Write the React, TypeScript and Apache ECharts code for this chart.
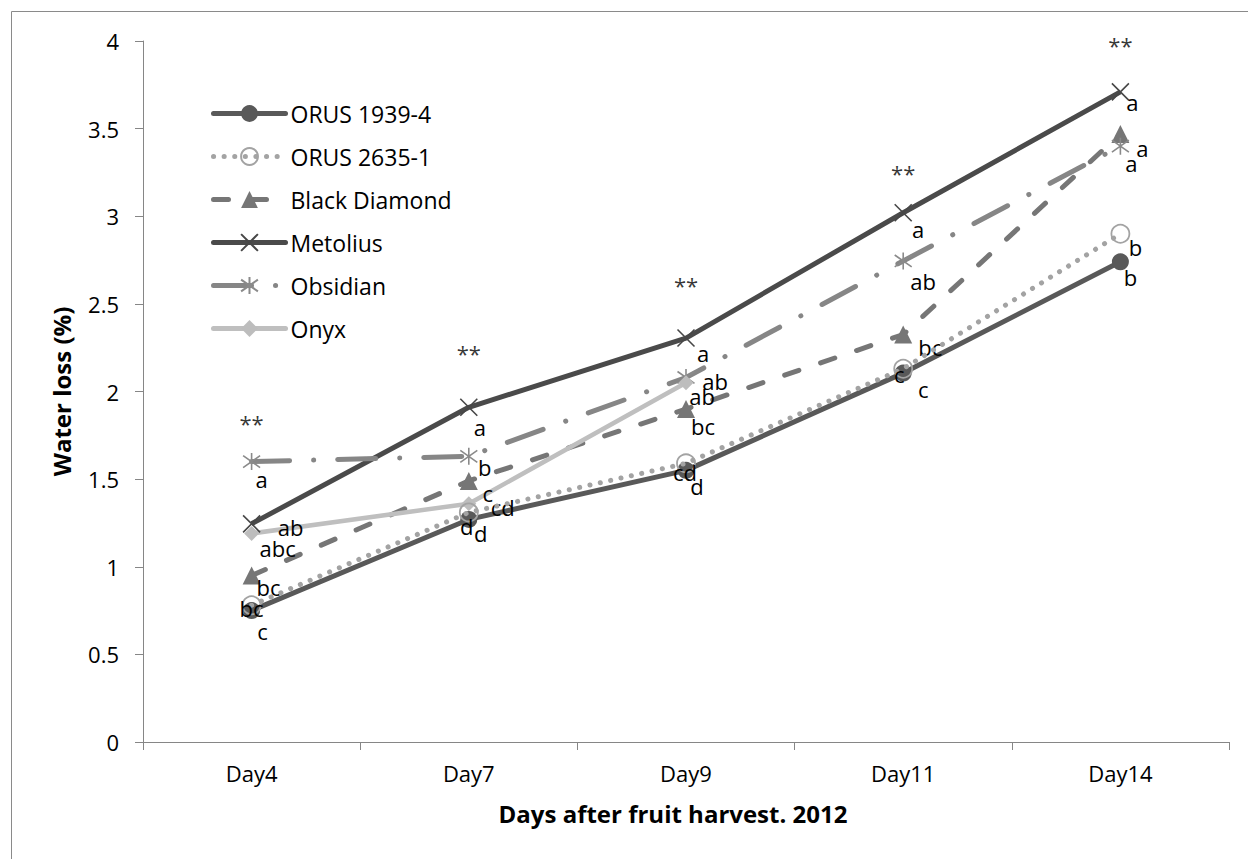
import React, { useEffect, useRef } from "react";
import * as echarts from "echarts";

// ---------- data ----------
const categories = ["Day4", "Day7", "Day9", "Day11", "Day14"];
const seriesNames = ["ORUS 1939-4", "ORUS 2635-1", "Black Diamond", "Metolius", "Obsidian", "Onyx"];

const orus1939 = [0.75, 1.27, 1.55, 2.105, 2.74];
const orus2635 = [0.78, 1.31, 1.59, 2.13, 2.9];
const blackDiamond = [0.95, 1.49, 1.9, 2.325, 3.47];
const metolius = [1.245, 1.91, 2.305, 3.02, 3.71];
const obsidian = [1.6, 1.63, 2.08, 2.745, 3.4];
const onyx = [1.19, 1.36, 2.05];

const letters1939 = ["c", "d", "d", "c", "b"];
const letters2635 = ["bc", "d", "cd", "c", "b"];
const lettersBD = ["bc", "c", "bc", "bc", "a"];
const lettersMet = ["ab", "a", "a", "a", "a"];
const lettersObs = ["a", "b", "ab", "ab", "a"];
const lettersOnyx = ["abc", "cd", "ab"];

const significance = ["**", "**", "**", "**", "**"];
const significanceLevel = [1.83, 2.23, 2.62, 3.26, 3.99];

const yTicks = { min: 0, max: 4, interval: 0.5 };

// ---------- label placement (px offsets from each point) ----------
const off1939 = [[11, 20], [12, 14], [11, 16], [20, 16], [10, 15]];
const off2635 = [[0, 3], [-2, 14], [-1, 9], [-4, 5], [15, 13]];
const offBD = [[17, 11], [19, 12], [17, 17], [27, 12], [22, 14]];
const offMet = [[39, 3], [11, 20], [17, 15], [15, 16], [12, 10]];
const offObs = [[10, 17], [16, 11], [29, 4], [20, 20], [11, 17]];
const offOnyx = [[26, 15], [34, 3], [16, 13]];

const FONT = "Open Sans";
const FS = 22;

function mkData(values: number[], letters: string[], offsets: number[][]) {
  return values.map((v, i) => ({
    value: v,
    label: { formatter: letters[i], offset: offsets[i] },
  }));
}

const labelBase = {
  show: true,
  position: "inside",
  color: "#000",
  fontSize: FS,
  fontFamily: FONT,
};

export default function App() {
  const ref = useRef<HTMLDivElement>(null);
  useEffect(() => {
    if (!ref.current) return;
    const chart = echarts.init(ref.current, undefined, { renderer: "svg" });
    const option: any = {
      animation: false,
      backgroundColor: "#fff",
      textStyle: { fontFamily: FONT },
      graphic: [
        {
          type: "rect",
          shape: { x: 11.5, y: 11.5, width: 1300, height: 900 },
          style: { fill: "none", stroke: "#8a8a8a", lineWidth: 1 },
          silent: true,
        },
      ],
      grid: { left: 143, right: 19, top: 41, bottom: 117, containLabel: false },
      legend: {
        data: seriesNames,
        orient: "vertical",
        left: 211,
        top: 102,
        padding: 0,
        itemWidth: 72,
        itemHeight: 21,
        itemGap: 20,
        lineStyle: { width: 5, cap: "round" },
        textStyle: { fontSize: 23, color: "#000", fontFamily: FONT },
      },
      xAxis: {
        type: "category",
        data: categories,
        boundaryGap: true,
        axisLine: { lineStyle: { color: "#868686", width: 1 } },
        axisTick: { show: true, length: 8, interval: 0, alignWithLabel: false, lineStyle: { color: "#868686" } },
        axisLabel: { fontSize: FS, color: "#000", fontFamily: FONT, margin: 20 },
        name: "Days after fruit harvest. 2012",
        nameLocation: "middle",
        nameGap: 59,
        nameTextStyle: { fontSize: 24, fontWeight: "bold", color: "#000", fontFamily: FONT, padding: [0, 26, 0, 0] },
      },
      yAxis: {
        type: "value",
        min: yTicks.min,
        max: yTicks.max,
        interval: yTicks.interval,
        axisLine: { show: true, lineStyle: { color: "#868686", width: 1 } },
        axisTick: { show: true, length: 8, lineStyle: { color: "#868686" } },
        splitLine: { show: false },
        axisLabel: { fontSize: FS, color: "#000", fontFamily: FONT, margin: 24 },
        name: "Water loss (%)",
        nameLocation: "middle",
        nameGap: 70,
        nameTextStyle: { fontSize: 24, fontWeight: "bold", color: "#000", fontFamily: FONT },
      },
      series: [
        {
          name: "ORUS 1939-4",
          type: "line",
          data: mkData(orus1939, letters1939, off1939),
          symbol: "circle",
          symbolSize: 17,
          itemStyle: { color: "#595959" },
          lineStyle: { color: "#595959", width: 5 },
          label: labelBase,
          z: 3,
        },
        {
          name: "ORUS 2635-1",
          type: "line",
          data: mkData(orus2635, letters2635, off2635),
          symbol: "circle",
          symbolSize: 18,
          itemStyle: { color: "rgba(255,255,255,0)", borderColor: "#a3a3a3", borderWidth: 1.8 },
          lineStyle: { color: "#a3a3a3", width: 5, type: [0.1, 10.5], cap: "round" },
          label: labelBase,
          z: 4,
        },
        {
          name: "Black Diamond",
          type: "line",
          data: mkData(blackDiamond, lettersBD, offBD),
          symbol: "triangle",
          symbolSize: 18,
          itemStyle: { color: "#767676" },
          lineStyle: { color: "#767676", width: 5, type: [15, 23], cap: "round" },
          label: labelBase,
          z: 3,
        },
        {
          name: "Metolius",
          type: "line",
          data: mkData(metolius, lettersMet, offMet),
          symbol: "path://M0,0L10,10M10,0L0,10",
          symbolSize: 17,
          itemStyle: { color: "#474747", borderColor: "#474747", borderWidth: 1.6 },
          lineStyle: { color: "#4a4a4a", width: 5 },
          label: labelBase,
          z: 3,
        },
        {
          name: "Obsidian",
          type: "line",
          data: mkData(obsidian, lettersObs, offObs),
          symbol: "path://M5,0L5,10M0.7,1.5L9.3,8.5M9.3,1.5L0.7,8.5",
          symbolSize: 17,
          itemStyle: { color: "#8a8a8a", borderColor: "#8a8a8a", borderWidth: 1.6 },
          lineStyle: { color: "#868686", width: 5, type: [38, 24, 0.1, 24], cap: "round" },
          label: labelBase,
          z: 3,
        },
        {
          name: "Onyx",
          type: "line",
          data: mkData(onyx, lettersOnyx, offOnyx),
          symbol: "diamond",
          symbolSize: 15,
          itemStyle: { color: "#bdbdbd" },
          lineStyle: { color: "#bfbfbf", width: 4.5 },
          label: labelBase,
          z: 3,
        },
        {
          name: "significance",
          type: "scatter",
          data: significanceLevel,
          symbol: "circle",
          symbolSize: 1,
          itemStyle: { color: "rgba(0,0,0,0)" },
          label: {
            show: true,
            position: "inside",
            formatter: (p: any) => significance[p.dataIndex],
            color: "#000",
            fontSize: FS,
            fontFamily: FONT,
            offset: [0, 2],
          },
          silent: true,
          z: 5,
        },
      ],
    };
    chart.setOption(option);
    return () => chart.dispose();
  }, []);
  return (
    <div
      ref={ref}
      style={{ position: "absolute", left: 0, top: 0, width: 1248, height: 859, background: "#fff" }}
    />
  );
}
